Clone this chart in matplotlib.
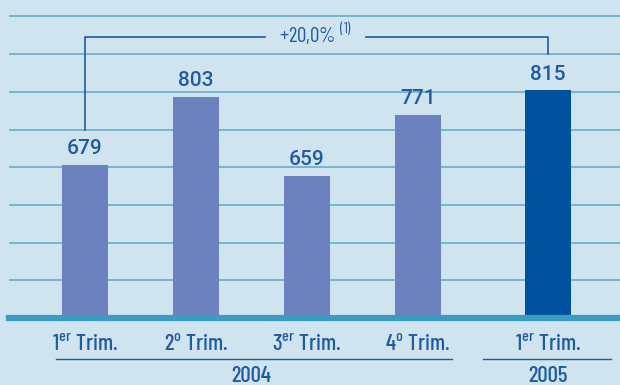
import matplotlib.pyplot as plt
from matplotlib.lines import Line2D

COND = "Barlow Condensed"
plt.rcParams['mathtext.fontset'] = 'custom'
plt.rcParams['mathtext.rm'] = COND + ":medium"

quarters = ["1$^{\\mathregular{er}}$ Trim.", "2$^{\\mathregular{o}}$ Trim.",
            "3$^{\\mathregular{er}}$ Trim.", "4$^{\\mathregular{o}}$ Trim.",
            "1$^{\\mathregular{er}}$ Trim."]
values = [679, 803, 659, 771, 815]
years = ["2004", "2005"]
growth_label = "+20,0%"

BG = "#d0e4ef"
GRID = "#6fb2cc"
BASE = "#3a9cc0"
BAR = "#6b82bf"
BAR_LAST = "#00529f"
TXT = "#1f5ba3"
NARROW = [COND, "DejaVu Sans"]

xpos = [0, 1, 2, 3, 4.17]
colors = [BAR] * 4 + [BAR_LAST]

fig = plt.figure(figsize=(6.2, 3.85), dpi=100)
fig.patch.set_facecolor(BG)
ax = fig.add_axes([9 / 620, 67 / 385, 611 / 620, 318 / 385])
ax.set_facecolor(BG)
ax.set_xlim(-0.685, 4.82)
ax.set_ylim(400, 980)
for s in ax.spines.values():
    s.set_visible(False)
ax.set_xticks([])
ax.set_yticks([])

# horizontal rules
for k in range(1, 9):
    ax.axhline(400 + 68.75 * k, color=GRID, lw=1.3, zorder=1)
ax.axhline(400, color=BASE, lw=4.5, zorder=3, clip_on=False)

ax.bar(xpos, values, width=0.415, bottom=0, color=colors, zorder=2)

for x, v in zip(xpos, values):
    ax.text(x, v + 12, str(v), ha="center", va="bottom", color=TXT,
            fontsize=15, family="Roboto", fontweight="medium")

# quarter labels and year groups
tr = ax.get_xaxis_transform()
for x, q in zip(xpos, quarters):
    ax.text(x, -0.105, q, ha="center", va="baseline", color=TXT,
            fontsize=16.5, family=NARROW, fontweight="medium",
            transform=tr, clip_on=False)
for x0, x1, xc, yr in [(-0.26, 3.31, 1.5, years[0]), (3.59, 4.74, 4.17, years[1])]:
    ax.add_line(Line2D([x0, x1], [-0.129, -0.129], color=TXT, lw=1,
                       transform=tr, clip_on=False))
    ax.text(xc, -0.201, yr, ha="center", va="baseline", color=TXT,
            fontsize=16.5, family=NARROW, fontweight="medium",
            transform=tr, clip_on=False)

# growth bracket between first and last bars
yb = 913
ax.plot([xpos[0], xpos[0], 1.62], [743.75, yb, yb], color=TXT, lw=1.2, zorder=4)
ax.plot([2.53, xpos[4], xpos[4]], [yb, yb, 881.25], color=TXT, lw=1.2, zorder=4)
ax.text(2.08, yb - 11, growth_label + "$^{\\mathregular{\\ (1)}}$", ha="center",
        va="baseline", color=TXT, fontsize=15, family=NARROW)

fig.savefig("out.png", dpi=100, facecolor=BG)
